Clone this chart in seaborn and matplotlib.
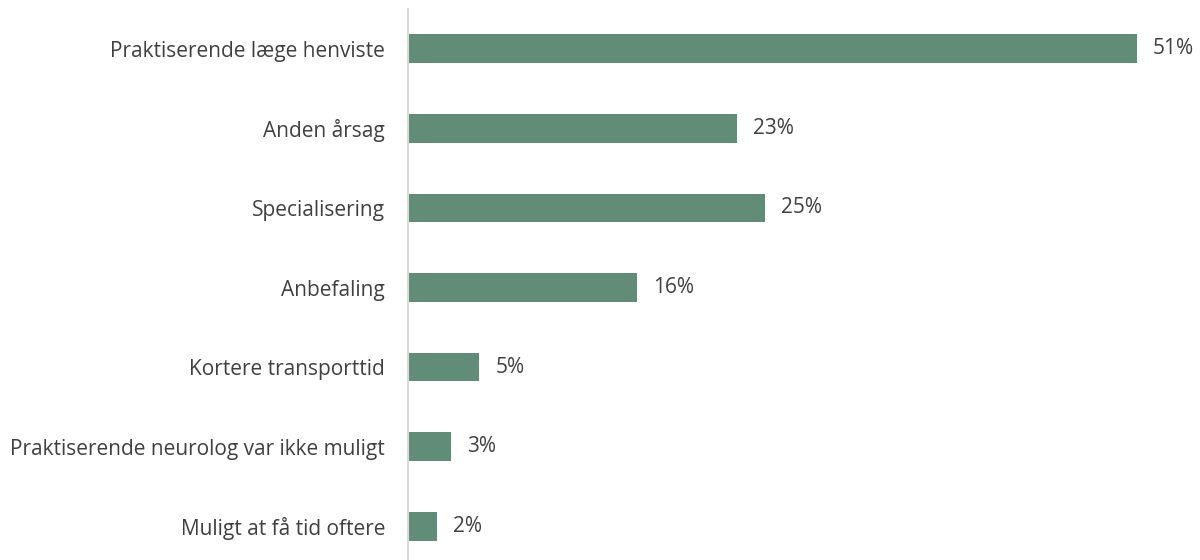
import matplotlib
matplotlib.use("Agg")
import matplotlib.pyplot as plt
import seaborn as sns
import pandas as pd

categories = [
    "Praktiserende læge henviste",
    "Anden årsag",
    "Specialisering",
    "Anbefaling",
    "Kortere transporttid",
    "Praktiserende neurolog var ikke muligt",
    "Muligt at få tid oftere",
]
values = [51, 23, 25, 16, 5, 3, 2]
value_labels = ["51%", "23%", "25%", "16%", "5%", "3%", "2%"]

sns.set_theme(style="white")
plt.rcParams["font.family"] = ["Open Sans", "DejaVu Sans"]

df = pd.DataFrame({"kategori": categories, "andel": values})

fig = plt.figure(figsize=(12, 5.6), dpi=100)
ax = fig.add_axes([0.34, -0.011, 0.66, 0.995])

bar_color = "#618c78"
sns.barplot(data=df, y="kategori", x="andel", orient="h", color=bar_color,
            width=0.36, saturation=1, linewidth=0, ax=ax)

ax.set_xlim(0, 55.4)
ax.set_ylim(6.5, -0.5)
ax.set_xlabel("")
ax.set_ylabel("")
ax.set_xticks([])

for s in ["top", "right", "bottom"]:
    ax.spines[s].set_visible(False)
ax.spines["left"].set_color("#d9d9d9")
ax.spines["left"].set_linewidth(1.5)

ax.tick_params(axis="y", length=0, pad=16.5, labelsize=15, labelcolor="#404040")

for i, (v, lab) in enumerate(zip(values, value_labels)):
    ax.annotate(lab, xy=(v, i), xytext=(11.5, 0), textcoords="offset points",
                va="center", ha="left", fontsize=15, color="#404040")

fig.savefig("out.png", dpi=100)
